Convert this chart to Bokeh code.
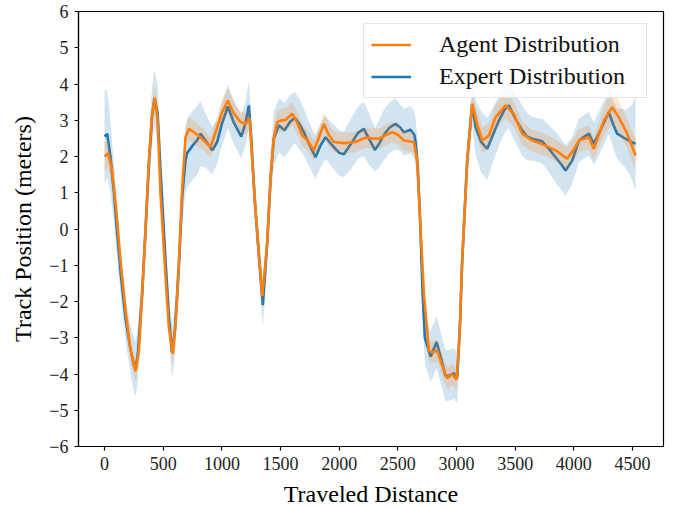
from bokeh.plotting import figure
from bokeh.models import Range1d, FixedTicker, Legend, LegendItem
from bokeh.embed import file_html
from bokeh.resources import INLINE

# ---- data ----
expert_x = [0, 23, 50, 80, 110, 140, 180, 220, 250, 265,
            285, 320, 350, 380, 405, 425, 452, 477, 520, 548,
            575, 600, 634, 662, 690, 705, 750, 790, 818, 860,
            918, 960, 1000, 1051, 1100, 1165, 1200, 1230, 1250, 1280,
            1315, 1349, 1386, 1415, 1443, 1486, 1534, 1580, 1622, 1660,
            1699, 1750, 1798, 1840, 1884, 1930, 1969, 2000, 2040, 2100,
            2160, 2210, 2260, 2304, 2340, 2381, 2430, 2480, 2520, 2551,
            2608, 2640, 2651, 2670, 2690, 2710, 2730, 2779, 2830, 2870,
            2906, 2940, 2977, 3006, 3030, 3048, 3091, 3134, 3162, 3210,
            3262, 3310, 3361, 3410, 3446, 3500, 3560, 3600, 3645, 3700,
            3730, 3790, 3844, 3900, 3929, 3986, 4043, 4090, 4128, 4170,
            4230, 4298, 4340, 4369, 4440, 4490, 4526]
expert_mean = [2.55, 2.62, 2.0, 1.0, -0.2, -1.3, -2.5, -3.3, -3.75, -3.85,
               -3.4, -1.8, 0.0, 1.9, 3.1, 3.6, 3.2, 1.6, -0.9, -2.4,
               -3.4, -2.8, -1.0, 0.9, 1.9, 2.1, 2.3, 2.45, 2.63, 2.45,
               2.17, 2.4, 2.9, 3.38, 2.95, 2.55, 2.9, 3.41, 2.5, 0.8,
               -0.7, -2.1, -0.4, 1.4, 2.5, 2.86, 2.72, 2.95, 3.07, 2.9,
               2.67, 2.3, 1.98, 2.3, 2.53, 2.35, 2.21, 2.1, 2.06, 2.35,
               2.65, 2.76, 2.45, 2.18, 2.35, 2.6, 2.8, 2.9, 2.8, 2.67,
               2.74, 2.6, 2.4, 1.7, 0.2, -1.7, -3.0, -3.52, -3.12, -3.6,
               -4.05, -4.04, -3.98, -4.1, -2.6, -0.9, 1.9, 3.45, 2.81, 2.4,
               2.21, 2.6, 2.99, 3.3, 3.41, 3.05, 2.72, 2.55, 2.49, 2.45,
               2.42, 2.2, 1.98, 1.75, 1.61, 1.89, 2.44, 2.55, 2.63, 2.35,
               2.75, 3.22, 2.85, 2.63, 2.49, 2.4, 2.35]
expert_spread = [1.3, 1.2, 1.0, 0.8, 0.7, 0.6, 0.6, 0.65, 0.75, 0.75,
                 0.75, 0.7, 0.7, 0.75, 0.8, 0.8, 0.8, 0.7, 0.6, 0.65,
                 0.72, 0.7, 0.7, 0.8, 0.9, 0.95, 0.95, 0.95, 0.9, 0.75,
                 0.65, 0.6, 0.6, 0.6, 0.6, 0.6, 0.6, 0.65, 0.65, 0.6,
                 0.6, 0.6, 0.6, 0.7, 0.75, 0.75, 0.75, 0.75, 0.7, 0.7,
                 0.65, 0.6, 0.6, 0.6, 0.6, 0.6, 0.62, 0.63, 0.63, 0.7,
                 0.72, 0.75, 0.7, 0.6, 0.65, 0.7, 0.7, 0.7, 0.65, 0.65,
                 0.65, 0.65, 0.65, 0.65, 0.65, 0.65, 0.7, 0.7, 0.72, 0.7,
                 0.7, 0.7, 0.7, 0.7, 0.65, 0.6, 0.6, 0.6, 0.75, 0.85,
                 0.85, 0.75, 0.7, 0.65, 0.64, 0.65, 0.7, 0.65, 0.6, 0.6,
                 0.62, 0.65, 0.7, 0.7, 0.7, 0.65, 0.6, 0.6, 0.6, 0.6,
                 0.6, 0.6, 0.65, 0.7, 0.8, 1.0, 1.3]

agent_x = [0, 30, 65, 100, 136, 179, 222, 264, 293, 321,
           350, 378, 406, 429, 452, 477, 520, 548, 583, 610,
           634, 662, 690, 719, 770, 818, 860, 903, 950, 1000,
           1051, 1100, 1159, 1202, 1236, 1259, 1287, 1315, 1345, 1386,
           1415, 1443, 1472, 1500, 1543, 1600, 1640, 1685, 1730, 1784,
           1830, 1869, 1910, 1954, 2040, 2139, 2224, 2280, 2338, 2400,
           2452, 2500, 2551, 2636, 2664, 2693, 2722, 2764, 2793, 2835,
           2870, 2920, 2963, 3000, 3025, 3048, 3091, 3134, 3175, 3219,
           3276, 3332, 3418, 3488, 3560, 3645, 3700, 3759, 3844, 3943,
           4000, 4043, 4128, 4170, 4256, 4327, 4383, 4455, 4526]
agent_mean = [2.0, 2.09, 1.61, 0.51, -0.87, -2.25, -3.35, -3.92, -3.35, -1.78,
              0.05, 1.89, 3.18, 3.62, 3.0, 0.98, -1.33, -2.71, -3.44, -2.4,
              -0.87, 1.15, 2.53, 2.76, 2.65, 2.53, 2.4, 2.26, 2.7, 3.2,
              3.54, 3.2, 2.95, 2.9, 3.05, 1.89, 0.51, -0.68, -1.85, -0.41,
              1.43, 2.53, 2.95, 2.99, 3.01, 3.18, 2.95, 2.58, 2.45, 2.17,
              2.55, 2.9, 2.6, 2.4, 2.37, 2.4, 2.52, 2.5, 2.49, 2.6,
              2.67, 2.6, 2.44, 2.4, 1.89, 0.05, -1.79, -3.35, -3.4, -3.35,
              -3.7, -4.12, -4.0, -4.16, -3.0, -0.87, 1.89, 3.45, 2.9, 2.44,
              2.58, 3.08, 3.41, 3.18, 2.63, 2.44, 2.38, 2.3, 2.17, 1.94,
              2.2, 2.44, 2.53, 2.21, 2.99, 3.36, 3.08, 2.63, 2.03]
agent_spread = [0.4, 0.38, 0.35, 0.3, 0.3, 0.3, 0.3, 0.3, 0.3, 0.3,
                0.3, 0.3, 0.32, 0.35, 0.32, 0.3, 0.3, 0.3, 0.3, 0.3,
                0.3, 0.3, 0.32, 0.32, 0.32, 0.3, 0.28, 0.28, 0.3, 0.32,
                0.35, 0.32, 0.3, 0.3, 0.3, 0.3, 0.3, 0.3, 0.3, 0.3,
                0.3, 0.32, 0.32, 0.32, 0.32, 0.32, 0.3, 0.3, 0.28, 0.28,
                0.28, 0.32, 0.3, 0.28, 0.28, 0.28, 0.28, 0.28, 0.28, 0.28,
                0.28, 0.28, 0.28, 0.28, 0.3, 0.3, 0.3, 0.3, 0.3, 0.3,
                0.3, 0.3, 0.3, 0.3, 0.3, 0.3, 0.3, 0.32, 0.35, 0.35,
                0.35, 0.35, 0.35, 0.35, 0.32, 0.3, 0.3, 0.3, 0.3, 0.32,
                0.32, 0.32, 0.32, 0.32, 0.38, 0.5, 0.45, 0.4, 0.45]

x_ticks = [0, 500, 1000, 1500, 2000, 2500, 3000, 3500, 4000, 4500]
y_ticks = [-6, -5, -4, -3, -2, -1, 0, 1, 2, 3, 4, 5, 6]
y_tick_labels = {t: ("\u2212%d" % -t if t < 0 else str(t)) for t in y_ticks}

BLUE = "#1f77b4"
ORANGE = "#ff7f0e"
FONT = "Liberation Serif"

p = figure(frame_width=585, frame_height=435,
           x_range=Range1d(-222, 4764), y_range=Range1d(-6, 6),
           output_backend="svg", toolbar_location=None,
           min_border_left=78, min_border_right=14, min_border_top=11, min_border_bottom=62)
p.xgrid.visible = False
p.ygrid.visible = False
p.outline_line_color = "black"
p.outline_line_width = 1.2
p.outline_line_alpha = 1.0
p.background_fill_color = "white"

e_lo = [m - s for m, s in zip(expert_mean, expert_spread)]
e_hi = [m + s for m, s in zip(expert_mean, expert_spread)]
a_lo = [m - s for m, s in zip(agent_mean, agent_spread)]
a_hi = [m + s for m, s in zip(agent_mean, agent_spread)]

p.varea(x=expert_x, y1=e_lo, y2=e_hi, fill_color=BLUE, fill_alpha=0.2)
e_line = p.line(expert_x, expert_mean, line_color=BLUE, line_width=2.6)
p.varea(x=agent_x, y1=a_lo, y2=a_hi, fill_color=ORANGE, fill_alpha=0.2)
a_line = p.line(agent_x, agent_mean, line_color=ORANGE, line_width=2.6)

for ax in (p.xaxis[0], p.yaxis[0]):
    ax.major_label_text_font = FONT
    ax.major_label_text_font_size = "18px"
    ax.major_label_text_color = "#222222"
    ax.axis_label_text_font = FONT
    ax.axis_label_text_font_size = "24px"
    ax.axis_label_text_font_style = "normal"
    ax.axis_label_text_color = "black"
    ax.minor_tick_line_color = None
    ax.major_tick_in = 0
    ax.major_tick_out = 4
    ax.major_tick_line_width = 1.2
    ax.axis_line_width = 1.2
    ax.major_label_standoff = 6

p.xaxis.ticker = FixedTicker(ticks=x_ticks)
p.yaxis.ticker = FixedTicker(ticks=y_ticks)
p.yaxis.major_label_overrides = y_tick_labels
p.xaxis.axis_label = "Traveled Distance"
p.yaxis.axis_label = "Track Position (meters)"
p.xaxis.axis_label_standoff = 8
p.yaxis.axis_label_standoff = 10

legend = Legend(items=[LegendItem(label="Agent Distribution", renderers=[a_line]),
                       LegendItem(label="Expert Distribution", renderers=[e_line])],
                location=(285, 348))
legend.label_text_font = FONT
legend.label_text_font_size = "24px"
legend.label_text_color = "#111111"
legend.glyph_width = 40
legend.glyph_height = 25
legend.label_height = 25
legend.label_width = 200
legend.label_standoff = 28
legend.spacing = 5
legend.padding = 7
legend.margin = 0
legend.border_line_color = "#cccccc"
legend.border_line_width = 1
legend.background_fill_color = "white"
legend.background_fill_alpha = 0.8
p.add_layout(legend)

open("out.html", "w").write(file_html(p, INLINE))
